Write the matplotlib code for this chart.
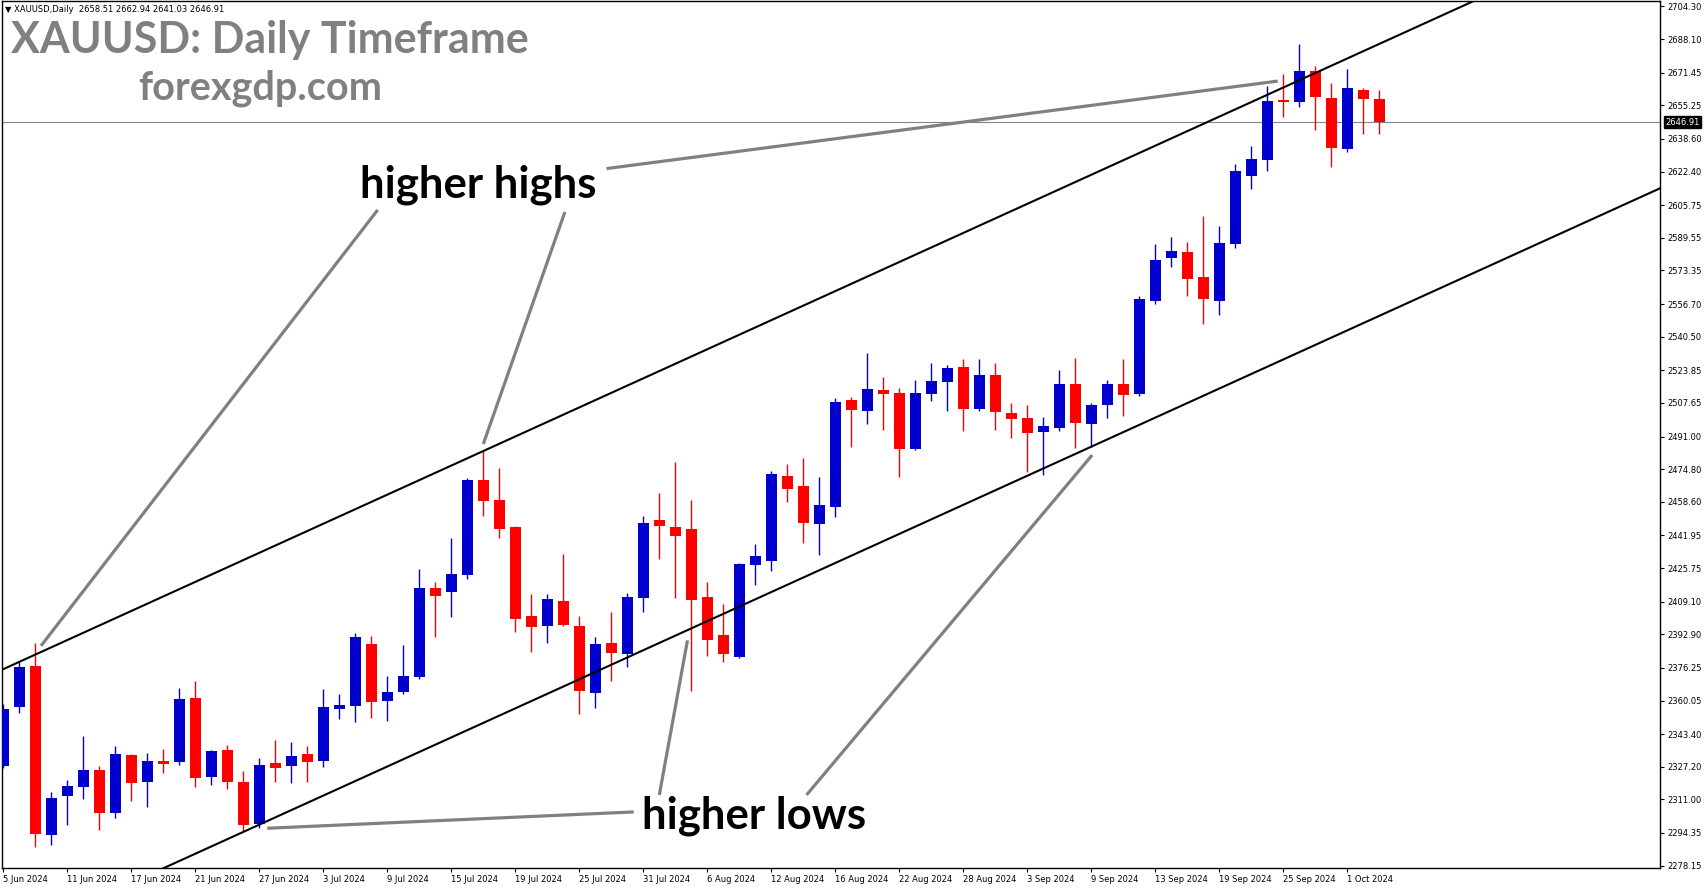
#libraries
import matplotlib
matplotlib.use("Agg")
import matplotlib.pyplot as plt
import numpy as np

#daily XAUUSD bars, 5 Jun 2024 - 3 Oct 2024
opens = [2327.7, 2357.0, 2377.2, 2293.5, 2312.9, 2317.3, 2325.6, 2304.4, 2333.0, 2319.8,
         2330.1, 2329.7, 2361.3, 2322.3, 2335.5, 2319.6, 2299.0, 2329.1, 2327.7, 2333.5,
         2330.2, 2356.0, 2357.5, 2388.1, 2360.0, 2364.4, 2371.9, 2415.9, 2414.0, 2422.5,
         2469.4, 2459.5, 2446.1, 2402.0, 2397.2, 2409.4, 2397.0, 2363.9, 2388.6, 2383.3,
         2411.1, 2449.6, 2446.1, 2445.1, 2411.4, 2392.6, 2381.8, 2427.3, 2429.4, 2471.4,
         2466.5, 2447.8, 2456.2, 2509.1, 2503.8, 2514.1, 2512.6, 2484.8, 2512.2, 2518.2,
         2525.5, 2504.8, 2521.5, 2502.7, 2500.2, 2493.4, 2495.4, 2517.1, 2497.4, 2506.8,
         2517.1, 2512.2, 2558.4, 2579.7, 2582.5, 2570.1, 2558.4, 2586.6, 2620.4, 2628.3,
         2657.9, 2657.1, 2672.3, 2658.9, 2633.8, 2662.9, 2658.51]
highs = [2358.3, 2379.2, 2388.6, 2314.7, 2320.6, 2342.6, 2327.6, 2337.5, 2333.5, 2334.0,
         2336.0, 2366.3, 2369.7, 2335.5, 2338.0, 2325.1, 2331.5, 2340.5, 2339.5, 2337.5,
         2365.8, 2363.3, 2393.5, 2392.1, 2372.2, 2387.6, 2425.3, 2418.8, 2440.7, 2470.3,
         2484.5, 2475.4, 2446.6, 2412.9, 2412.9, 2432.7, 2402.0, 2391.6, 2404.0, 2413.4,
         2451.6, 2463.0, 2478.4, 2459.5, 2418.8, 2408.0, 2428.3, 2437.7, 2473.9, 2477.4,
         2480.4, 2470.9, 2510.1, 2510.6, 2532.4, 2520.5, 2515.1, 2519.0, 2527.5, 2526.5,
         2529.5, 2529.5, 2527.5, 2507.6, 2506.6, 2500.7, 2524.0, 2530.0, 2507.6, 2519.0,
         2529.5, 2560.7, 2586.5, 2590.0, 2587.5, 2600.4, 2595.4, 2626.2, 2635.1, 2664.9,
         2670.8, 2685.7, 2674.8, 2666.4, 2673.3, 2663.9, 2662.94]
lows = [2326.4, 2354.0, 2287.5, 2288.4, 2298.3, 2311.4, 2296.0, 2301.9, 2310.4, 2307.4,
        2324.3, 2328.1, 2317.3, 2318.3, 2316.3, 2295.5, 2297.0, 2319.8, 2319.3, 2319.8,
        2327.2, 2351.0, 2349.5, 2351.5, 2350.0, 2363.4, 2370.5, 2391.7, 2401.6, 2420.5,
        2451.6, 2440.8, 2394.2, 2384.3, 2388.7, 2397.2, 2353.5, 2356.5, 2369.9, 2376.8,
        2404.1, 2430.4, 2411.1, 2364.9, 2382.3, 2379.3, 2381.3, 2417.4, 2424.5, 2458.7,
        2438.3, 2432.4, 2451.2, 2485.9, 2497.4, 2494.4, 2471.1, 2484.3, 2508.8, 2503.8,
        2493.9, 2503.8, 2494.4, 2490.4, 2473.6, 2472.1, 2493.9, 2485.5, 2485.9, 2500.3,
        2501.3, 2511.2, 2556.9, 2575.2, 2560.9, 2547.0, 2551.4, 2584.7, 2613.9, 2622.8,
        2649.6, 2654.6, 2643.2, 2624.8, 2632.3, 2641.2, 2641.03]
closes = [2355.8, 2376.7, 2294.0, 2311.7, 2317.7, 2325.6, 2304.4, 2333.5, 2319.3, 2330.1,
          2328.7, 2360.8, 2321.8, 2335.0, 2319.8, 2298.5, 2328.1, 2326.8, 2332.5, 2329.7,
          2356.9, 2357.8, 2391.6, 2359.5, 2364.3, 2372.2, 2415.9, 2412.0, 2422.8, 2469.4,
          2459.2, 2445.3, 2400.6, 2396.7, 2410.4, 2397.7, 2364.9, 2388.1, 2383.8, 2411.4,
          2448.1, 2446.8, 2441.8, 2410.1, 2390.2, 2383.3, 2427.8, 2431.8, 2472.4, 2465.1,
          2448.3, 2457.0, 2508.1, 2504.3, 2514.5, 2512.2, 2485.0, 2512.6, 2518.5, 2525.0,
          2504.8, 2521.5, 2503.3, 2499.8, 2492.9, 2496.2, 2517.1, 2497.9, 2506.6, 2517.1,
          2511.7, 2559.2, 2578.5, 2583.0, 2569.3, 2559.4, 2587.0, 2622.7, 2628.7, 2657.4,
          2657.1, 2672.3, 2659.5, 2634.2, 2663.9, 2658.6, 2646.91]

date_labels = ["5 Jun 2024", "11 Jun 2024", "17 Jun 2024", "21 Jun 2024", "27 Jun 2024",
               "3 Jul 2024", "9 Jul 2024", "15 Jul 2024", "19 Jul 2024", "25 Jul 2024",
               "31 Jul 2024", "6 Aug 2024", "12 Aug 2024", "16 Aug 2024", "22 Aug 2024",
               "28 Aug 2024", "3 Sep 2024", "9 Sep 2024", "13 Sep 2024", "19 Sep 2024",
               "25 Sep 2024", "1 Oct 2024"]
price_ticks = [2704.30, 2688.10, 2671.45, 2655.25, 2638.60, 2622.40, 2605.75, 2589.55,
               2573.35, 2556.70, 2540.50, 2523.85, 2507.65, 2491.00, 2474.80, 2458.60,
               2441.95, 2425.75, 2409.10, 2392.90, 2376.25, 2360.05, 2343.40, 2327.20,
               2311.00, 2294.35, 2278.15]
last_price = 2646.91

#channel (two points each: bar index, price)
upper_chan = [(-0.2, 2374.9), (87.9, 2692.6)]
lower_chan = [(11.15, 2281.0), (89.17, 2562.3)]

#pointer lines: (label end) -> (tip)
high_pointers = [((23.4, 2603.4), (2.36, 2387.2)),
                 ((35.1, 2602.4), (30.0, 2487.3)),
                 ((37.7, 2623.9), (79.65, 2667.3))]
low_pointers = [((39.4, 2304.8), (16.5, 2296.7)),
                ((41.0, 2313.2), (42.76, 2389.9)),
                ((50.2, 2313.2), (68.05, 2481.8))]

#figure
W, H = 1705, 888
fig = plt.figure(figsize=(W/100, H/100), dpi=100)
ax = fig.add_axes([2/W, 20/H, 1658/W, 867/H])

x = np.arange(len(opens))
o = np.array(opens); c = np.array(closes)
up = c >= o
cols = np.where(up, "#0000CC", "#FF0000")

ax.axhline(last_price, color="#778899", lw=0.8, zorder=1)
ax.vlines(x, lows, highs, colors=cols, lw=1.0, zorder=2)
body = np.maximum(np.abs(c - o), 0.6)
ax.bar(x, body, bottom=np.minimum(o, c), width=0.69, color=cols, linewidth=0, zorder=3)

#channel lines
for line in (upper_chan, lower_chan):
    (x0, y0), (x1, y1) = line
    k = (y1 - y0) / (x1 - x0)
    xs = np.array([-5, 120])
    ax.plot(xs, y0 + k*(xs - x0), color="black", lw=1.5, zorder=4)

for (a, b) in high_pointers + low_pointers:
    ax.plot([a[0], b[0]], [a[1], b[1]], color="#808080", lw=2.3, zorder=5,
            solid_capstyle="butt")

ax.set_xlim(-0.08, 103.54)
ax.set_ylim(2276.99, 2707.02)

#axes like the terminal
ax.yaxis.tick_right()
ax.set_yticks(price_ticks)
ax.set_yticklabels([f"{p:.2f}" for p in price_ticks])
ax.set_xticks(np.arange(0, len(opens), 4)[:len(date_labels)])
ax.set_xticklabels(date_labels, ha="left")
ax.tick_params(axis="both", labelsize=6, length=3, width=0.8, pad=2, colors="black")
for s in ax.spines.values():
    s.set_linewidth(1.0)
    s.set_color("black")

ax.annotate(f"{last_price:.2f}", xy=(1, last_price), xycoords=("axes fraction", "data"),
            xytext=(4, 0), textcoords="offset points", ha="left", va="center",
            fontsize=6, color="white",
            bbox=dict(boxstyle="square,pad=0.15", fc="black", ec="black"), zorder=10,
            annotation_clip=False)

#text
fig.text(5/W, 1 - 9/H, "\u25bc XAUUSD,Daily  2658.51 2662.94 2641.03 2646.91",
         fontsize=6, va="center", ha="left")
fig.text(11/W, 1 - 40/H, "XAUUSD: Daily Timeframe", fontsize=31, color="#808080",
         fontweight="bold", family="Lato", va="center", ha="left")
fig.text(138/W, 1 - 88/H, "forexgdp.com", fontsize=28.5, color="#808080",
         fontweight="bold", family="Lato", va="center", ha="left")
ax.text(29.7, 2616.0, "higher highs", fontsize=31.5, fontweight="bold", family="Lato",
        ha="center", va="center", zorder=6)
ax.text(46.9, 2303.0, "higher lows", fontsize=31.5, fontweight="bold", family="Lato",
        ha="center", va="center", zorder=6)

plt.savefig("out.png", dpi=100)
